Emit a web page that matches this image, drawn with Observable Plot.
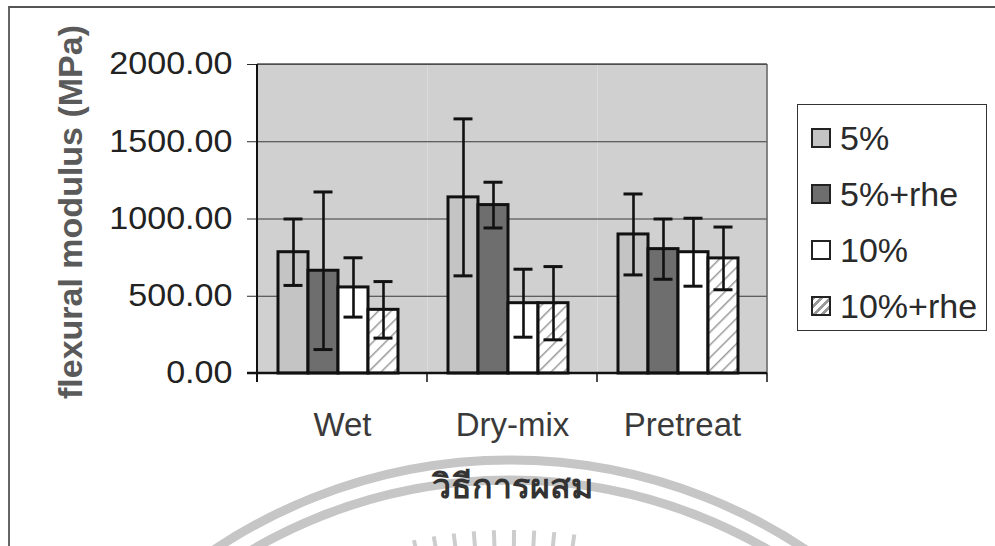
<!DOCTYPE html>
<html>
<head>
<meta charset="utf-8">
<script src="https://cdn.jsdelivr.net/npm/d3@7"></script>
<script src="https://cdn.jsdelivr.net/npm/@observablehq/plot@0.6"></script>
<style>
  body { margin: 0; background: #fff; }
  #wrap { position: relative; width: 995px; height: 546px; overflow: hidden;
          font-family: "Liberation Sans", Arial, sans-serif; }
  #frame { position: absolute; left: 8px; top: 6px; right: -10px; bottom: -10px;
           border-top: 2px solid #555; border-left: 2px solid #666; }
  #wm { position: absolute; left: 0; top: 0; }
  #chart { position: absolute; left: 0; top: 0; }
  #legend { position: absolute; left: 797px; top: 104px; width: 190px; height: 227px;
            border: 1.5px solid #333; background: #fff; box-sizing: border-box; }
  .item { position: absolute; left: 13px; height: 40px; display: flex; align-items: center;
          font-size: 34px; color: #2a2a2a; white-space: nowrap; }
  .sw { width: 16px; height: 16px; border: 2.5px solid #222; margin-right: 9px; box-sizing: content-box; }
</style>
</head>
<body>
<div id="wrap">
  <svg id="wm" width="995" height="546"></svg>
  <div id="frame"></div>
  <div id="chart"></div>
  <div id="legend"></div>
</div>
<script>
// ---- data ----
const methods = ["Wet", "Dry-mix", "Pretreat"];
const series = ["5%", "5%+rhe", "10%", "10%+rhe"];
const wetMean = [785, 665, 557, 412];
const dryMean = [1140, 1090, 455, 455];
const preMean = [900, 805, 785, 745];
const wetErr = [215, 510, 192, 183];
const dryErr = [508, 148, 220, 237];
const preErr = [262, 195, 220, 203];
const yTicks = [0, 500, 1000, 1500, 2000];
const yLabel = "flexural modulus (MPa)";
const xLabel = "วิธีการผสม";
const fills = ["#c4c4c4", "#6e6e6e", "#ffffff", "url(#hatch)"];

const means = [wetMean, dryMean, preMean];
const errs = [wetErr, dryErr, preErr];
const data = [];
methods.forEach((m, i) => series.forEach((s, j) =>
  data.push({method: m, series: s, value: means[i][j], err: errs[i][j]})));

// ---- watermark (decorative) ----
const wm = d3.select("#wm");
[532, 512].forEach(r => wm.append("circle").attr("cx", 510).attr("cy", 992).attr("r", r)
  .attr("fill", "none").attr("stroke", "#c6c6c6").attr("stroke-width", 9));
for (let a = -12; a <= 8; a += 2.5) {
  const t = a * Math.PI / 180;
  wm.append("line")
    .attr("x1", 510 + 440 * Math.sin(t)).attr("y1", 992 - 440 * Math.cos(t))
    .attr("x2", 510 + 462 * Math.sin(t)).attr("y2", 992 - 462 * Math.cos(t))
    .attr("stroke", "#cdcdcd").attr("stroke-width", 4);
}

// ---- chart ----
const plot = Plot.plot({
  width: 995,
  height: 546,
  marginLeft: 256,
  marginRight: 227,
  marginTop: 64,
  marginBottom: 173,
  style: {fontFamily: "'Liberation Sans', Arial, sans-serif", fontSize: "31px",
          background: "transparent", color: "#2a2a2a", overflow: "visible"},
  fx: {domain: methods, padding: 0, axis: "bottom", tickSize: 0, tickPadding: 39,
       label: xLabel, labelAnchor: "center", labelOffset: 124},
  x: {domain: series, paddingInner: 0, paddingOuter: 0.75, align: 0.42, axis: null},
  y: {domain: [0, 2000], ticks: yTicks, tickFormat: d3.format(".2f"), tickSize: 10,
      tickPadding: 15, label: yLabel, labelAnchor: "center", labelArrow: "none", labelOffset: 200},
  color: {domain: series, range: fills},
  marks: [
    Plot.frame({fill: "#d0d0d0", stroke: "none"}),
    Plot.ruleY(yTicks.slice(1), {stroke: "#3a3a3a", strokeWidth: 1.2}),
    Plot.barY(data, {fx: "method", x: "series", y: "value", fill: "series",
                     stroke: "#111", strokeWidth: 3}),
    Plot.ruleX(data, {fx: "method", x: "series", y1: d => d.value - d.err,
                      y2: d => d.value + d.err, stroke: "#111", strokeWidth: 2.6}),
    Plot.tickY(data, {fx: "method", x: "series", y: d => d.value + d.err,
                      insetLeft: 5.5, insetRight: 5.5, stroke: "#111", strokeWidth: 3}),
    Plot.tickY(data, {fx: "method", x: "series", y: d => d.value - d.err,
                      insetLeft: 5.5, insetRight: 5.5, stroke: "#111", strokeWidth: 3})
  ]
});
document.getElementById("chart").appendChild(plot);

// pattern for hatched bars
const svg = d3.select(plot);
const defs = svg.insert("defs", ":first-child");
const pat = defs.append("pattern").attr("id", "hatch").attr("patternUnits", "userSpaceOnUse")
  .attr("width", 9).attr("height", 9).attr("patternTransform", "rotate(45)");
pat.append("rect").attr("width", 9).attr("height", 9).attr("fill", "#fff");
pat.append("line").attr("x1", 0).attr("y1", 0).attr("x2", 0).attr("y2", 9)
  .attr("stroke", "#9a9a9a").attr("stroke-width", 3);

// axis text styling
svg.selectAll('[aria-label="y-axis tick label"] text')
  .attr("fill", "#222")
  .attr("transform", function() { return (this.getAttribute("transform") || "") + " scale(1.1,1)"; });
svg.selectAll('[aria-label="fx-axis tick label"] text')
  .style("font-size", "33px").attr("fill", "#3a3a3a");
svg.selectAll('[aria-label="y-axis label"] text')
  .style("font-size", "34px").style("font-weight", "bold").attr("fill", "#5a5a5a")
  .attr("transform", function() { return (this.getAttribute("transform") || "") + " translate(7,0)"; });
svg.selectAll('[aria-label="fx-axis label"] text')
  .style("font-size", "34px").style("font-weight", "bold").attr("fill", "#333");

// axis lines via the plot's own scales
const fx = plot.scale("fx"), y = plot.scale("y");
const x0 = fx.apply(methods[0]);
const x1 = fx.apply(methods[methods.length - 1]) + fx.bandwidth;
const yTop = y.apply(2000), yBot = y.apply(0);
const g = svg.append("g");
g.append("line").attr("x1", x1).attr("x2", x1).attr("y1", yTop).attr("y2", yBot)
  .attr("stroke", "#666").attr("stroke-width", 1.5);
g.append("line").attr("x1", x0).attr("x2", x1).attr("y1", yTop).attr("y2", yTop)
  .attr("stroke", "#555").attr("stroke-width", 1.5);
g.append("line").attr("x1", x0).attr("x2", x0).attr("y1", yTop).attr("y2", yBot + 9)
  .attr("stroke", "#111").attr("stroke-width", 2);
g.append("line").attr("x1", x0 - 10).attr("x2", x1).attr("y1", yBot).attr("y2", yBot)
  .attr("stroke", "#111").attr("stroke-width", 2.5);
methods.forEach(m => {
  const xe = fx.apply(m) + fx.bandwidth;
  g.append("line").attr("x1", xe).attr("x2", xe).attr("y1", yBot).attr("y2", yBot + 9)
    .attr("stroke", "#111").attr("stroke-width", 1.5);
});

// legend
const legend = d3.select("#legend");
const legendTops = series.map((s, i) => 13 + i * 56);
series.forEach((s, i) => {
  const it = legend.append("div").attr("class", "item").style("top", legendTops[i] + "px");
  const sw = it.append("div").attr("class", "sw");
  if (fills[i].startsWith("url"))
    sw.style("background", "repeating-linear-gradient(-45deg, #fff 0 3px, #9a9a9a 3px 6px)");
  else sw.style("background", fills[i]);
  it.append("span").text(s);
});
</script>
</body>
</html>
